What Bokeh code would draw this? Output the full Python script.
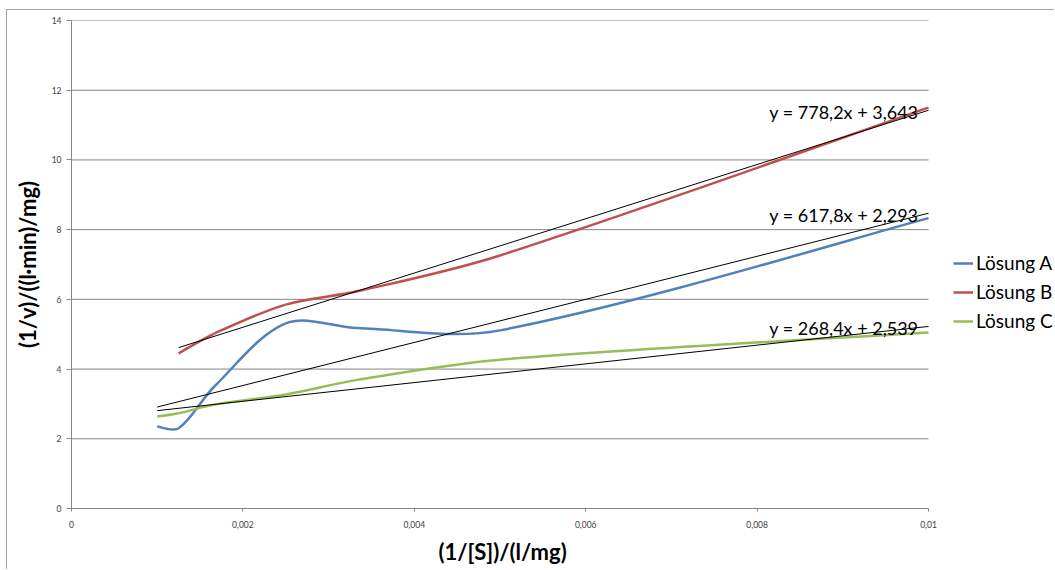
import math
from bokeh.plotting import figure
from bokeh.models import (FixedTicker, CustomJSTickFormatter, Legend, LegendItem,
                          Label, Title, ColumnDataSource, Range1d)
from bokeh.embed import file_html
from bokeh.resources import INLINE

# ---- data ----
x_a = [0.001, 0.00125, 0.001667, 0.0025, 0.003333, 0.005, 0.01]
y_a = [2.35, 2.30, 3.50, 5.31, 5.18, 5.11, 8.33]
x_b = [0.00125, 0.001667, 0.0025, 0.003333, 0.005, 0.01]
y_b = [4.45, 5.02, 5.85, 6.23, 7.26, 11.50]
x_c = [0.001, 0.00125, 0.001667, 0.0025, 0.003333, 0.005, 0.01]
y_c = [2.64, 2.73, 2.98, 3.27, 3.69, 4.27, 5.05]
series_names = ["Lösung A", "Lösung B", "Lösung C"]
trend_slope = [617.8, 778.2, 268.4]
trend_intercept = [2.293, 3.643, 2.539]
x_ticks = [0, 0.002, 0.004, 0.006, 0.008, 0.01]
x_tick_labels = ["0", "0,002", "0,004", "0,006", "0,008", "0,01"]
y_ticks = [0, 2, 4, 6, 8, 10, 12, 14]
x_title = "(1/[S])/(l/mg)"
y_title = "(1/v)/((l·min)/mg)"

colors = ["#4F81BD", "#C0504D", "#9BBB59"]
FONT = "Lato"
X_MAX, Y_MAX = 0.01, 14
AXIS_W, FRAME_W, FRAME_H = 857, 984, 488   # axis length vs. full frame (legend lives right of axis end)

p = figure(width=1048, height=560,
           x_range=Range1d(0, X_MAX * FRAME_W / AXIS_W), y_range=Range1d(0, Y_MAX),
           output_backend="svg", toolbar_location=None,
           min_border_left=64, min_border_right=0,
           min_border_top=10, min_border_bottom=62,
           y_axis_label=y_title)
p.styles = {"margin-left": "6px", "margin-top": "9px",
            "border-left": "1px solid #a6a6a6", "border-top": "1px solid #a6a6a6"}
p.outline_line_color = None
p.background_fill_color = "white"
p.border_fill_color = "white"

# scale factors (pixels per data unit) for the smoothing weights
sx = AXIS_W / X_MAX
sy = FRAME_H / Y_MAX


def smooth_segments(xs, ys):
    """Bezier control points for a smoothed line through the data points."""
    P = [(x * sx, y * sy) for x, y in zip(xs, ys)]
    n = len(P)
    out = {k: [] for k in ("x0", "y0", "x1", "y1", "cx0", "cy0", "cx1", "cy1")}

    def d(a, b):
        return math.hypot(a[0] - b[0], a[1] - b[1])

    for i in range(n - 1):
        p0 = P[i - 1] if i > 0 else P[i]
        p1, p2 = P[i], P[i + 1]
        p3 = P[i + 2] if i + 2 < n else P[i + 1]
        d01, d12, d23 = d(p0, p1), d(p1, p2), d(p2, p3)
        f1 = d12 / (d01 + d12) / 3 if d01 > 0 else 1 / 6
        f2 = d12 / (d12 + d23) / 3 if d23 > 0 else 1 / 6
        c1 = (p1[0] + (p2[0] - p0[0]) * f1, p1[1] + (p2[1] - p0[1]) * f1)
        c2 = (p2[0] - (p3[0] - p1[0]) * f2, p2[1] - (p3[1] - p1[1]) * f2)
        out["x0"].append(p1[0] / sx); out["y0"].append(p1[1] / sy)
        out["x1"].append(p2[0] / sx); out["y1"].append(p2[1] / sy)
        out["cx0"].append(c1[0] / sx); out["cy0"].append(c1[1] / sy)
        out["cx1"].append(c2[0] / sx); out["cy1"].append(c2[1] / sy)
    return out


# horizontal gridlines, limited to the axis extent
p.segment(x0=0, x1=X_MAX, y0=y_ticks, y1=y_ticks, line_color="#868686", line_width=1)

renderers = []
for xs, ys, col in zip([x_a, x_b, x_c], [y_a, y_b, y_c], colors):
    src = ColumnDataSource(smooth_segments(xs, ys))
    r = p.bezier(x0="x0", y0="y0", x1="x1", y1="y1", cx0="cx0", cy0="cy0",
                 cx1="cx1", cy1="cy1", source=src, line_color=col, line_width=2.5)
    renderers.append(r)

# trendlines
for xs, s, b in zip([x_a, x_b, x_c], trend_slope, trend_intercept):
    xt = [min(xs), max(xs)]
    p.line(xt, [s * v + b for v in xt], line_color="black", line_width=1)
    txt = "y = " + f"{s:.1f}".replace(".", ",") + "x + " + f"{b:.3f}".replace(".", ",")
    p.add_layout(Label(x=max(xs), y=s * max(xs) + b, text=txt, text_align="right",
                       text_baseline="middle", x_offset=-10, y_offset=-2,
                       text_font=FONT, text_font_size="18px", text_color="black"))

# x-axis title, placed under the middle of the axis extent
p.add_layout(Title(text=x_title, align="left", offset=367, standoff=10,
                   text_font=FONT, text_font_size="22px", text_font_style="bold",
                   text_color="black"), "below")

# axes
p.xaxis.ticker = FixedTicker(ticks=x_ticks)
p.yaxis.ticker = FixedTicker(ticks=y_ticks)
p.xaxis.bounds = (0, X_MAX)
p.xaxis.formatter = CustomJSTickFormatter(args=dict(tv=x_ticks, tl=x_tick_labels), code="""
for (let i = 0; i < tv.length; i++) { if (Math.abs(tv[i] - tick) < 1e-9) return tl[i]; }
return String(tick).replace('.', ',');
""")
for ax in (p.xaxis[0], p.yaxis[0]):
    ax.axis_line_color = "#868686"
    ax.major_tick_line_color = "#868686"
    ax.minor_tick_line_color = None
    ax.major_tick_in = 0
    ax.major_label_text_font = FONT
    ax.major_label_text_font_size = "8.5px"
    ax.major_label_text_color = "#404040"
    ax.axis_label_text_font = FONT
    ax.axis_label_text_font_style = "bold"
    ax.axis_label_text_font_size = "22px"
    ax.axis_label_text_color = "black"
p.xaxis.major_tick_out = 3
p.xaxis.major_label_standoff = 9
p.yaxis.major_tick_out = 5
p.yaxis.major_label_standoff = 5
p.yaxis.axis_label_standoff = 8

p.xgrid.visible = False
p.ygrid.visible = False

legend = Legend(items=[LegendItem(label=n, renderers=[r]) for n, r in zip(series_names, renderers)],
                location=(882, 176), orientation="vertical",
                glyph_width=20, glyph_height=20, label_height=20, spacing=6,
                label_standoff=3, padding=0, margin=0,
                border_line_color=None, background_fill_alpha=0,
                label_text_font=FONT, label_text_font_size="19px",
                label_text_color="black")
p.add_layout(legend)

open("out.html", "w").write(file_html(p, INLINE))
